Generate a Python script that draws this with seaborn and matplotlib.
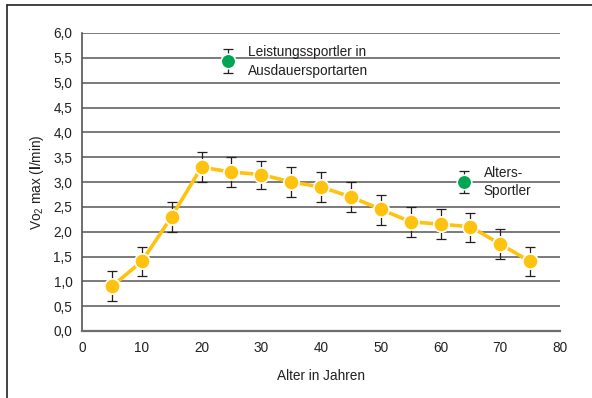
import numpy as np
import pandas as pd
import matplotlib
matplotlib.use("Agg")
import matplotlib.pyplot as plt
from matplotlib.lines import Line2D
from matplotlib.ticker import FuncFormatter
import seaborn as sns

# Age groups and mean VO2 max with spread
alter = [5, 10, 15, 20, 25, 30, 35, 40, 45, 50, 55, 60, 65, 70, 75]
vo2 = [0.9, 1.4, 2.3, 3.3, 3.2, 3.15, 3.0, 2.9, 2.7, 2.45, 2.2, 2.15, 2.1, 1.75, 1.4]
err_oben = [1.2, 1.7, 2.6, 3.6, 3.5, 3.43, 3.3, 3.2, 3.0, 2.73, 2.5, 2.45, 2.38, 2.05, 1.7]
err_unten = [0.6, 1.1, 2.0, 3.0, 2.9, 2.85, 2.7, 2.6, 2.4, 2.14, 1.9, 1.85, 1.8, 1.45, 1.1]

# Reference groups
gruppen = ["Leistungssportler in\nAusdauersportarten", "Alters-\nSportler"]
gruppe_x = [24.5, 64.0]
gruppe_y = [5.43, 3.0]
gruppe_err = [0.24, 0.23]

yticks = [0.0, 0.5, 1.0, 1.5, 2.0, 2.5, 3.0, 3.5, 4.0, 4.5, 5.0, 5.5, 6.0]
xticks = [0, 10, 20, 30, 40, 50, 60, 70, 80]

sns.set_style("white")
plt.rcParams["font.family"] = ["Liberation Sans", "DejaVu Sans"]
plt.rcParams["mathtext.fontset"] = "custom"
plt.rcParams["mathtext.rm"] = "Liberation Sans"
plt.rcParams["mathtext.it"] = "Liberation Sans:italic"
plt.rcParams["mathtext.bf"] = "Liberation Sans:bold"

GELB = "#FFC20E"
GRUEN = "#00A651"
TXT = "#231F20"

fig = plt.figure(figsize=(5.92, 3.98), dpi=100)
ax = fig.add_axes([82 / 592, 1 - 331 / 398, (560 - 82) / 592, (331 - 33) / 398])

# Horizontal grid
for yv in yticks[1:]:
    ax.axhline(yv, color="#707070", lw=1.3, zorder=0)

df = pd.DataFrame({"alter": alter, "vo2": vo2})
yerr = np.array([np.array(vo2) - np.array(err_unten), np.array(err_oben) - np.array(vo2)])
ax.errorbar(alter, vo2, yerr=yerr, fmt="none", ecolor="#231F20", elinewidth=0.9,
            capsize=3.5, capthick=0.9, zorder=2)
sns.lineplot(data=df, x="alter", y="vo2", ax=ax, color=GELB, lw=2.6, marker="o",
             markersize=11, markerfacecolor=GELB, markeredgecolor="white",
             markeredgewidth=1.2, zorder=3)

ax.errorbar(gruppe_x, gruppe_y, yerr=gruppe_err, fmt="none", ecolor="#231F20",
            elinewidth=0.9, capsize=3.5, capthick=0.9, zorder=2)
sns.scatterplot(x=gruppe_x, y=gruppe_y, ax=ax, color=GRUEN, s=110,
                edgecolor="white", linewidth=1.2, zorder=3)
for gx, gy, name in zip(gruppe_x, gruppe_y, gruppen):
    ax.text(gx + 3.2, gy, name, ha="left", va="center", fontsize=9.8,
            color=TXT, linespacing=1.45)

ax.set_xlim(0, 80)
ax.set_ylim(0, 6)
ax.set_xticks(xticks)
ax.set_yticks(yticks)
ax.yaxis.set_major_formatter(FuncFormatter(lambda v, p: f"{v:.1f}".replace(".", ",")))
ax.tick_params(axis="both", length=3, width=1, color="#555555", labelsize=9.8,
               labelcolor=TXT, direction="out", pad=4)
for side in ["top", "right"]:
    ax.spines[side].set_visible(False)
ax.spines["left"].set_color("#555555")
ax.spines["left"].set_linewidth(1.2)
ax.spines["bottom"].set_color("#6d6d6d")
ax.spines["bottom"].set_linewidth(1.6)

ax.set_xlabel("Alter in Jahren", fontsize=9.8, color=TXT, labelpad=10)
ax.set_ylabel(r"Vo$_2$ max ($\mathbf{l}$/min)", fontsize=9.8, color=TXT, labelpad=5)

# Outer frame lines (top and left)
fig.add_artist(Line2D([7 / 592, 1], [1 - 5 / 398, 1 - 5 / 398], transform=fig.transFigure,
                      color="#222222", lw=1.2))
fig.add_artist(Line2D([7 / 592, 7 / 592], [0, 1 - 5 / 398], transform=fig.transFigure,
                      color="#222222", lw=1.2))

fig.savefig("out.png", dpi=100)
